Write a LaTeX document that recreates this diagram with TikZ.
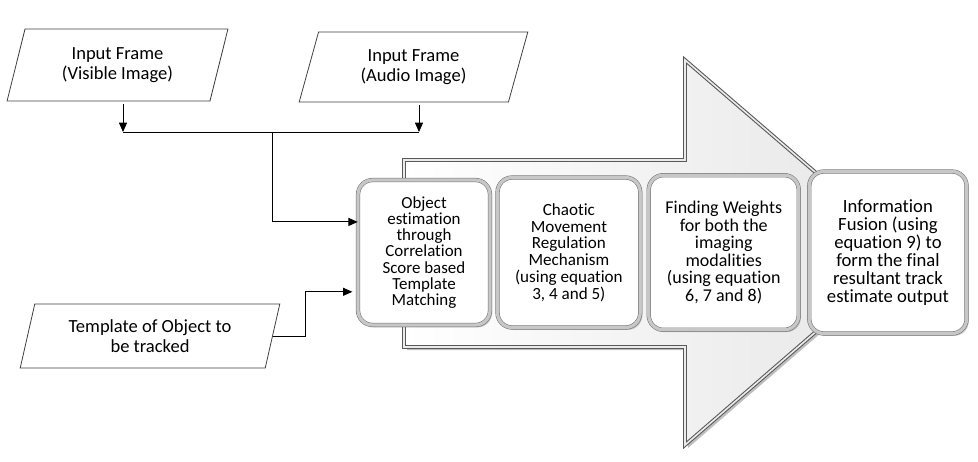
\documentclass[tikz,border=0pt]{standalone}
\usepackage{fontspec}
\setmainfont{Carlito}[Ligatures=NoCommon]
\usetikzlibrary{positioning,arrows.meta,shapes.geometric,shadows,calc}

\begin{document}
\begin{tikzpicture}[x=0.75pt, y=-0.75pt, >={Triangle[length=7pt,width=6pt]},
  frame/.style={trapezium, trapezium left angle=73.5, trapezium right angle=106.5,
                trapezium stretches=true, draw=black!75, line width=0.6pt, align=center,
                font=\fontsize{13.9}{14.7}\selectfont, inner sep=1pt},
  stage/.style={draw=black!55, double=black!22, double distance=2.4pt, rounded corners=11pt,
                fill=white, align=center, inner sep=2pt,
                drop shadow={shadow xshift=1.6pt, shadow yshift=-1.8pt, opacity=0.45}},
  link/.style={->, line width=0.7pt}]
  \useasboundingbox (0,0) rectangle (978,461);
  % big process arrow behind the stages
  \fill[black!25] (407,163) -- (688,163) -- (688,64) -- (911,255) -- (688,448) -- (688,350)
    -- (407,350) -- cycle;
  \draw[black!65, line width=0.8pt, double=black!8, double distance=1.2pt,
        left color=white, right color=black!10]
    (404,160) -- (685,160) -- (685,60) -- (908,252) -- (685,445) -- (685,347)
    -- (404,347) -- cycle;
  % inputs
  \node[frame, minimum width=165.75pt, minimum height=54pt] (vis) at (117.5,65)
    {Input Frame\\(Visible Image)};
  \node[frame, minimum width=171.75pt, minimum height=52.5pt] (aud) at (413.5,67)
    {Input Frame\\(Audio Image)};
  \node[frame, minimum width=195pt, minimum height=48pt] (tpl) at (150,336)
    {Template of Object to\\be tracked};
  % stages
  \node[stage, minimum width=99pt, minimum height=108.75pt,
        font=\fontsize{12.7}{12.2}\selectfont] (obj) at (424,252.5)
    {Object\\estimation\\through\\Correlation\\Score based\\Template\\Matching};
  \node[stage, right=5.25pt of obj, minimum width=107pt, minimum height=112.5pt,
        font=\fontsize{12.8}{12.6}\selectfont] (cmr)
    {Chaotic\\Movement\\Regulation\\Mechanism\\(using equation\\3, 4 and 5)};
  \node[stage, right=6pt of cmr, minimum width=112.5pt, minimum height=116pt,
        font=\fontsize{13.5}{13.1}\selectfont] (wgt)
    {Finding Weights\\for both the\\imaging\\modalities\\(using equation\\6, 7 and 8)};
  \node[stage, right=7.5pt of wgt, minimum width=118pt, minimum height=121.5pt,
        font=\fontsize{14}{13.4}\selectfont] (fus)
    {Information\\Fusion (using\\equation 9) to\\form the final\\resultant track\\estimate output};
  % connectors
  \coordinate (busL) at (123,132);
  \coordinate (busM) at (272,132);
  \coordinate (busR) at (419,132);
  \draw[link, shorten <=2pt] (vis.south -| busL) -- (busL);
  \draw[link, shorten <=2pt] (aud.south -| busR) -- (busR);
  \draw[line width=0.7pt] (busL) -- (busR);
  \draw[link] (busM) |- ($(obj.north west)!0.29!(obj.south west)$);
  \draw[link, shorten >=4pt] (tpl.east) -- ++(33,0) |- ($(obj.north west)!0.77!(obj.south west)$);
\end{tikzpicture}
\end{document}
